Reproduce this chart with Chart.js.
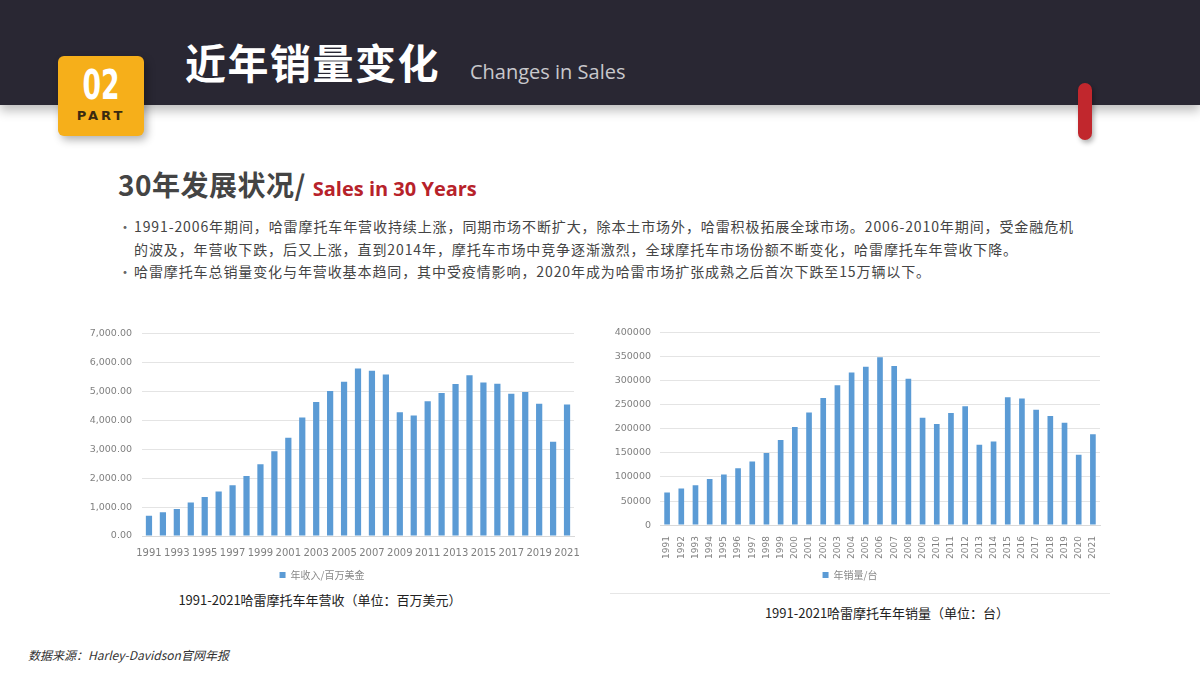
<!DOCTYPE html>
<html>
<head>
<meta charset="utf-8">
<script src="https://cdn.jsdelivr.net/npm/chart.js@4"></script>
<style>
  body { margin:0; width:1200px; height:675px; background:#fff; position:relative; overflow:hidden;
         font-family:"Noto Sans CJK SC","Noto Sans",sans-serif; }
  .topbar { position:absolute; left:0; top:0; width:1200px; height:105px; background:#292733;
            box-shadow:0 6px 10px rgba(0,0,0,0.25); }
  .badge { position:absolute; left:58px; top:56px; width:86px; height:80px; background:#F6AF1A;
           border-radius:6px; box-shadow:3px 4px 8px rgba(0,0,0,0.3); text-align:center; }
  .badge .num { font-family:"DejaVu Sans Condensed","DejaVu Sans",sans-serif; font-weight:bold;
                color:#fff; font-size:38px; line-height:40px; margin-top:9px; transform:scale(0.78,1.08); }
  .badge .part { font-family:"DejaVu Sans",sans-serif; font-weight:bold; color:#3a2a10; font-size:13px;
                 letter-spacing:3px; margin-top:3px; }
  .title { position:absolute; left:185px; top:31px; color:#fff; font-size:41px; font-weight:bold; letter-spacing:1.5px; }
  .etitle { position:absolute; left:470px; top:58px; color:#c8c8cc; font-size:20px; font-family:"Open Sans",sans-serif; }
  .pill { position:absolute; left:1078px; top:83px; width:14px; height:57px; background:#C1272D;
          border-radius:7px; box-shadow:2px 3px 5px rgba(0,0,0,0.3); }
  .sub { position:absolute; left:118px; top:164px; font-size:28px; font-weight:bold; color:#444; letter-spacing:0.5px; }
  .sub span { color:#B7222A; font-size:20px; font-family:"Open Sans",sans-serif; letter-spacing:0; }
  .bullets { position:absolute; left:118px; top:215px; width:1040px; font-size:14px; line-height:22.5px;
             color:#444; letter-spacing:0.9px; }
  .bullets div { padding-left:16px; position:relative; }
  .bullets div::before { content:"•"; position:absolute; left:0; color:#666; }
  .cap { position:absolute; font-size:13px; color:#222; text-align:center; }
  .sep { position:absolute; left:610px; top:593px; width:500px; height:1px; background:#e6e6e6; }
  .src { position:absolute; left:28px; top:646px; font-size:12px; font-style:italic; color:#333; }
  canvas { position:absolute; }
</style>
</head>
<body>
<div class="topbar"></div>
<div class="badge"><div class="num">02</div><div class="part">PART</div></div>
<div class="title">近年销量变化</div>
<div class="etitle">Changes in Sales</div>
<div class="pill"></div>
<div class="sub">30年发展状况/ <span>Sales in 30 Years</span></div>
<div class="bullets">
  <div>1991-2006年期间，哈雷摩托车年营收持续上涨，同期市场不断扩大，除本土市场外，哈雷积极拓展全球市场。2006-2010年期间，受金融危机<br>的波及，年营收下跌，后又上涨，直到2014年，摩托车市场中竞争逐渐激烈，全球摩托车市场份额不断变化，哈雷摩托车年营收下降。</div>
  <div>哈雷摩托车总销量变化与年营收基本趋同，其中受疫情影响，2020年成为哈雷市场扩张成熟之后首次下跌至15万辆以下。</div>
</div>

<canvas id="chartRevenue" style="left:70px;top:318px;width:520px;height:272px;" width="520" height="272"></canvas>
<canvas id="chartSales" style="left:600px;top:318px;width:510px;height:272px;" width="510" height="272"></canvas>
<div class="sep"></div>
<div class="cap" style="left:120px;top:590px;width:400px;">1991-2021哈雷摩托车年营收（单位：百万美元）</div>
<div class="cap" style="left:687px;top:603px;width:400px;">1991-2021哈雷摩托车年销量（单位：台）</div>
<div class="src">数据来源：Harley-Davidson官网年报</div>

<script>
// 연도
const years = ['1991','1992','1993','1994','1995','1996','1997','1998','1999','2000',
  '2001','2002','2003','2004','2005','2006','2007','2008','2009','2010',
  '2011','2012','2013','2014','2015','2016','2017','2018','2019','2020','2021'];
// 年营收 (百万美元)
const revenue = [700, 820, 930, 1160, 1350, 1540, 1760, 2080, 2480, 2930,
  3400, 4100, 4640, 5020, 5340, 5800, 5720, 5590, 4280, 4170,
  4660, 4950, 5260, 5560, 5310, 5270, 4920, 4980, 4580, 3260, 4550];
// 年销量 (台)
const sales = [68000, 76000, 83000, 96000, 105000, 118000, 132000, 150000, 177000, 204000,
  234000, 264000, 291000, 317000, 329000, 349000, 331000, 304000, 223000, 210000,
  233000, 247000, 167000, 174000, 266000, 263000, 240000, 227000, 213000, 146000, 189000];

const barColor = '#5B9BD5';
const tickColor = '#808080';
const gridColor = '#e4e4e4';

// 营收 차트
new Chart(document.getElementById('chartRevenue').getContext('2d'), {
  type: 'bar',
  data: {
    labels: years,
    datasets: [{
      label: '年收入/百万美金',
      data: revenue,
      backgroundColor: barColor,
      barPercentage: 0.95,
      categoryPercentage: 0.47
    }]
  },
  options: {
    responsive: false,
    animation: false,
    layout: { padding: { top: 10, right: 16, bottom: 0, left: 0 } },
    plugins: {
      legend: {
        position: 'bottom',
        labels: { boxWidth: 6, boxHeight: 6, color: '#888', font: { size: 10, family: 'Noto Sans CJK SC' }, padding: 8 }
      },
      tooltip: { enabled: false }
    },
    scales: {
      x: {
        grid: { display: false },
        border: { color: '#d9d9d9' },
        ticks: {
          color: tickColor, font: { size: 10, family: 'DejaVu Sans' }, autoSkip: false, maxRotation: 0,
          callback: function(v, i){ return i % 2 === 0 ? years[i] : ''; }
        }
      },
      y: {
        min: 0, max: 7000,
        afterFit: function(s){ s.width = 72; },
        grid: { color: gridColor, drawTicks: false },
        border: { display: false },
        ticks: {
          stepSize: 1000, color: tickColor, padding: 10, font: { size: 9.5, family: 'DejaVu Sans' },
          callback: function(v){ return v.toLocaleString('en-US', { minimumFractionDigits: 2, maximumFractionDigits: 2 }); }
        }
      }
    }
  }
});

// 销量 차트
new Chart(document.getElementById('chartSales').getContext('2d'), {
  type: 'bar',
  data: {
    labels: years,
    datasets: [{
      label: '年销量/台',
      data: sales,
      backgroundColor: barColor,
      barPercentage: 0.95,
      categoryPercentage: 0.42
    }]
  },
  options: {
    responsive: false,
    animation: false,
    layout: { padding: { top: 8, right: 10, bottom: 0, left: 0 } },
    plugins: {
      legend: {
        position: 'bottom',
        labels: { boxWidth: 6, boxHeight: 6, color: '#888', font: { size: 10, family: 'Noto Sans CJK SC' }, padding: 8 }
      },
      tooltip: { enabled: false }
    },
    scales: {
      x: {
        grid: { display: false },
        border: { color: '#d9d9d9' },
        ticks: { color: tickColor, font: { size: 9, family: 'DejaVu Sans' }, autoSkip: false, minRotation: 90, maxRotation: 90 }
      },
      y: {
        min: 0, max: 400000,
        afterFit: function(s){ s.width = 60; },
        grid: { color: gridColor, drawTicks: false },
        border: { display: false },
        ticks: {
          stepSize: 50000, color: tickColor, padding: 9, font: { size: 9.5, family: 'DejaVu Sans' },
          callback: function(v){ return String(v); }
        }
      }
    }
  }
});
</script>
</body>
</html>
